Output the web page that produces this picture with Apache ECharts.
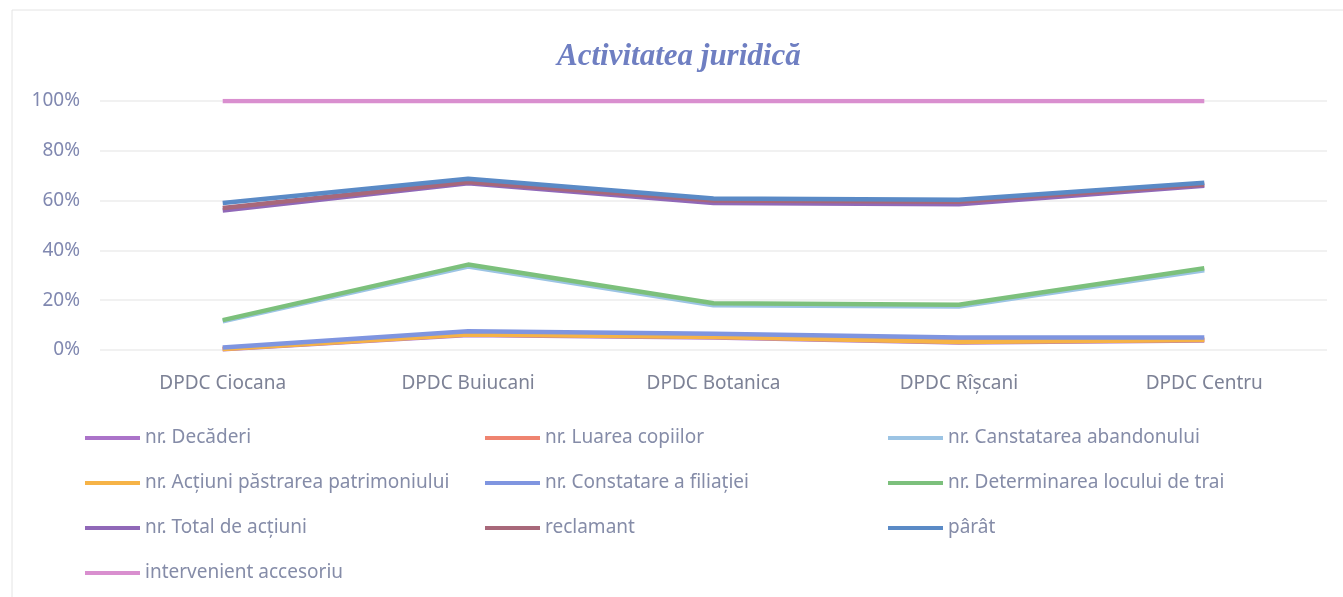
<!DOCTYPE html>
<html>
<head>
<meta charset="utf-8">
<script src="https://cdn.jsdelivr.net/npm/echarts@6/dist/echarts.min.js"></script>
<style>
  html, body { margin: 0; padding: 0; background: #fff; }
  #chart { width: 1343px; height: 597px; }
</style>
</head>
<body>
<div id="chart"></div>
<script>
// categorii
const districts = ['DPDC Ciocana', 'DPDC Buiucani', 'DPDC Botanica', 'DPDC Rîșcani', 'DPDC Centru']
const yTicks = [0, 20, 40, 60, 80, 100]

// valori (%)
const decaderi = [0.3, 6, 5, 3, 3.8]
const luareaCopiilor = [0.5, 6.5, 5.5, 3.5, 4.2]
const constatareaAbandon = [11.5, 33.5, 18, 17.5, 32]
const pastrareaPatrimoniu = [0.4, 6.2, 5.2, 3.2, 4]
const constatareFiliatie = [1, 7.5, 6.5, 5, 5]
const determinareaTrai = [12, 34.3, 18.8, 18.2, 32.8]
const totalActiuni = [56, 67, 59, 58.5, 66]
const reclamant = [57, 67.5, 60, 59.5, 66.5]
const parat = [59, 68.8, 60.8, 60.3, 67.2]
const intervenient = [100, 100, 100, 100, 100]

const seriesDefs = [
  { name: 'nr. Decăderi', data: decaderi, color: '#ab73c9' },
  { name: 'nr. Luarea copiilor', data: luareaCopiilor, color: '#ef8470' },
  { name: 'nr. Canstatarea abandonului', data: constatareaAbandon, color: '#9cc4e4' },
  { name: 'nr. Acțiuni păstrarea patrimoniului', data: pastrareaPatrimoniu, color: '#f6b347' },
  { name: 'nr. Constatare a filiației', data: constatareFiliatie, color: '#7f95e0' },
  { name: 'nr. Determinarea locului de trai', data: determinareaTrai, color: '#7cc07c' },
  { name: 'nr. Total de acțiuni', data: totalActiuni, color: '#9068b8' },
  { name: 'reclamant', data: reclamant, color: '#a8687a' },
  { name: 'pârât', data: parat, color: '#5a8ac6' },
  { name: 'intervenient accesoriu', data: intervenient, color: '#d98fcf' }
]

const legendCols = [
  ['nr. Decăderi', 'nr. Acțiuni păstrarea patrimoniului', 'nr. Total de acțiuni', 'intervenient accesoriu'],
  ['nr. Luarea copiilor', 'nr. Constatare a filiației', 'reclamant'],
  ['nr. Canstatarea abandonului', 'nr. Determinarea locului de trai', 'pârât']
]
const legendLeft = [80, 480, 883]

const chart = echarts.init(document.getElementById('chart'))

chart.setOption({
  backgroundColor: '#fff',
  animation: false,
  title: {
    text: 'Activitatea juridică',
    left: 552,
    top: 36,
    textStyle: {
      fontFamily: 'Liberation Serif',
      fontStyle: 'italic',
      fontWeight: 'bold',
      fontSize: 31,
      color: '#6f7fc2'
    }
  },
  legend: legendCols.map((col, i) => ({
    data: col,
    orient: 'vertical',
    left: legendLeft[i],
    top: 422,
    icon: 'rect',
    itemWidth: 55,
    itemHeight: 4,
    itemGap: 23,
    textStyle: { fontFamily: 'Noto Sans', fontSize: 19, color: '#858ca8', lineHeight: 22 }
  })),
  grid: { left: 100, right: 16, top: 101, bottom: 247, containLabel: false },
  xAxis: {
    type: 'category',
    data: districts,
    axisLine: { show: false },
    axisTick: { show: false },
    axisLabel: { fontFamily: 'Noto Sans', fontSize: 19, color: '#7d8296', margin: 24 }
  },
  yAxis: {
    type: 'value',
    min: yTicks[0],
    max: yTicks[yTicks.length - 1],
    interval: 20,
    axisLabel: { formatter: '{value}%', fontFamily: 'Noto Sans', fontSize: 19, color: '#8088b0', margin: 20 },
    splitLine: { lineStyle: { color: '#ececec', width: 1.5 } }
  },
  series: seriesDefs.map(s => ({
    name: s.name,
    type: 'line',
    data: s.data,
    symbol: 'none',
    color: s.color,
    lineStyle: { width: 4.5, color: s.color }
  })),
  graphic: [{
    type: 'rect',
    shape: { x: 12, y: 10, width: 1340, height: 600 },
    style: { fill: 'none', stroke: '#e4e4e4', lineWidth: 1 },
    silent: true
  }]
})
</script>
</body>
</html>
